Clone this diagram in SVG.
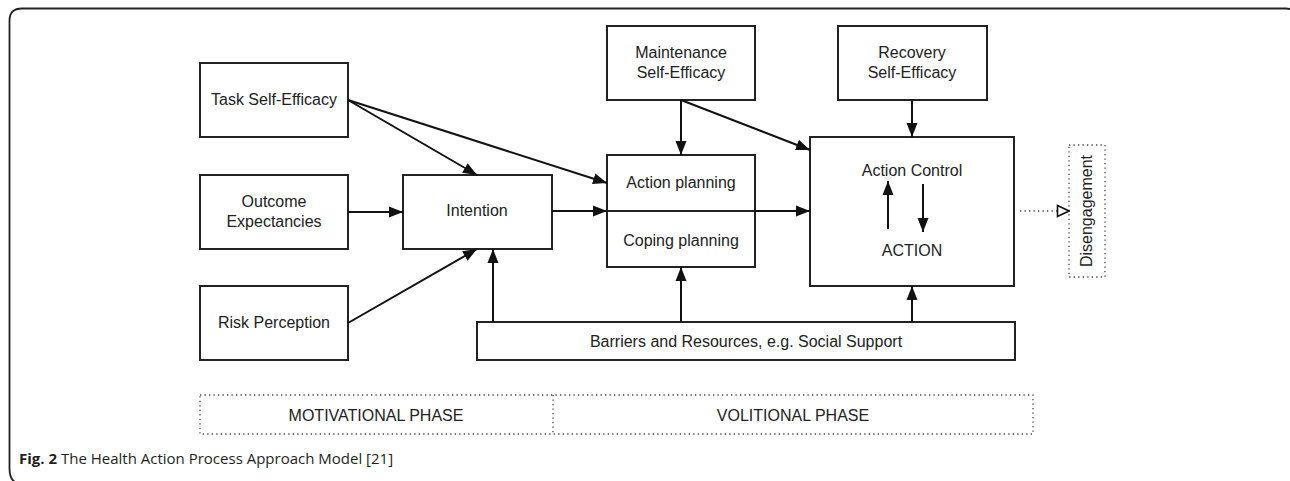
<svg xmlns="http://www.w3.org/2000/svg" width="1290" height="481" viewBox="0 0 1290 481">
<defs>
<marker id="ah" markerWidth="14" markerHeight="14" viewBox="0 0 14 14" refX="14" refY="7" orient="auto" markerUnits="userSpaceOnUse">
<path d="M0,1.5 L14,7 L0,12.5 Z" fill="#111"/>
</marker>
<marker id="oh" markerWidth="14" markerHeight="14" viewBox="0 0 14 14" refX="13" refY="7" orient="auto" markerUnits="userSpaceOnUse">
<path d="M1.5,1.5 L13,7 L1.5,12.5 Z" fill="#fff" stroke="#111" stroke-width="1.6"/>
</marker>
<style>
.box{fill:#fff;stroke:#222;stroke-width:2}
.t{font-family:"Liberation Sans",Arial,sans-serif;font-size:16px;fill:#222;text-anchor:middle;dominant-baseline:central}
.c{stroke:#111;stroke-width:2;fill:none;marker-end:url(#ah)}
.dot{fill:none;stroke:#444;stroke-width:1.3;stroke-dasharray:1.3 3.2}
.ph{font-family:"Liberation Sans",Arial,sans-serif;font-size:16px;fill:#222;text-anchor:middle;dominant-baseline:central}
.cap{font-family:"Open Sans","Noto Sans",sans-serif;font-size:15px;fill:#231f20}
</style>
</defs>
<rect width="1290" height="481" fill="#fff"/>
<path d="M1290,9 L1286,8.5 L22,8.5 Q9.5,8.5 9.5,21 L9.5,468 Q9.5,479 15,482" fill="none" stroke="#222" stroke-width="1.8"/>

<g id="task-self-efficacy">
<rect class="box" x="200" y="63" width="148" height="74"/>
<text class="t" x="274" y="99">Task Self-Efficacy</text>
</g>
<g id="outcome-expectancies">
<rect class="box" x="200" y="175" width="148" height="74"/>
<text class="t" x="274" y="201">Outcome</text>
<text class="t" x="274" y="221">Expectancies</text>
</g>
<g id="risk-perception">
<rect class="box" x="200" y="286" width="148" height="74"/>
<text class="t" x="274" y="322">Risk Perception</text>
</g>
<g id="intention">
<rect class="box" x="403" y="175" width="149" height="74"/>
<text class="t" x="477" y="210">Intention</text>
</g>
<g id="maintenance-self-efficacy">
<rect class="box" x="607" y="26" width="148" height="74"/>
<text class="t" x="681" y="52">Maintenance</text>
<text class="t" x="681" y="72">Self-Efficacy</text>
</g>
<g id="recovery-self-efficacy">
<rect class="box" x="838" y="26" width="149" height="74"/>
<text class="t" x="912" y="52">Recovery</text>
<text class="t" x="912" y="72">Self-Efficacy</text>
</g>
<g id="planning">
<rect class="box" x="607" y="155" width="148" height="112"/>
<line x1="607" y1="211" x2="755" y2="211" stroke="#222" stroke-width="2"/>
<text class="t" x="681" y="182">Action planning</text>
<text class="t" x="681" y="240">Coping planning</text>
</g>
<g id="action-control">
<rect class="box" x="810" y="137" width="204" height="149"/>
<text class="t" x="912" y="170">Action Control</text>
<text class="t" x="912" y="250">ACTION</text>
</g>
<g id="barriers">
<rect class="box" x="477" y="322" width="538" height="38"/>
<text class="t" x="746" y="341">Barriers and Resources, e.g. Social Support</text>
</g>
<g id="disengagement">
<rect class="dot" x="1069" y="145" width="36" height="132"/>
<text class="t" transform="translate(1086,211) rotate(-90)" x="0" y="0">Disengagement</text>
</g>
<g id="phases">
<rect class="dot" x="200" y="395" width="833" height="39"/>
<line class="dot" x1="553" y1="395" x2="553" y2="434"/>
<text class="ph" x="376" y="415">MOTIVATIONAL PHASE</text>
<text class="ph" x="793" y="415">VOLITIONAL PHASE</text>
</g>

<g id="connectors">
<line class="c" x1="348" y1="100" x2="477" y2="175"/>
<line class="c" x1="348" y1="100" x2="607" y2="183"/>
<line class="c" x1="348" y1="212" x2="403" y2="212"/>
<line class="c" x1="348" y1="323" x2="477" y2="249"/>
<line class="c" x1="552" y1="211" x2="607" y2="211"/>
<line class="c" x1="755" y1="211" x2="810" y2="211"/>
<line class="c" x1="681" y1="100" x2="681" y2="155"/>
<line class="c" x1="681" y1="100" x2="810" y2="150"/>
<line class="c" x1="912" y1="100" x2="912" y2="137"/>
<line class="c" x1="493" y1="322" x2="493" y2="249"/>
<line class="c" x1="681" y1="322" x2="681" y2="267"/>
<line class="c" x1="912" y1="322" x2="912" y2="286"/>
<line class="c" x1="888" y1="229" x2="888" y2="181"/>
<line class="c" x1="923" y1="184" x2="923" y2="232"/>
<line x1="1020" y1="211" x2="1069" y2="211" stroke="#444" stroke-width="1.3" stroke-dasharray="1.3 3.2" marker-end="url(#oh)"/>
</g>

<text class="cap" x="19" y="464"><tspan font-weight="bold">Fig. 2</tspan> The Health Action Process Approach Model [21]</text>
</svg>
